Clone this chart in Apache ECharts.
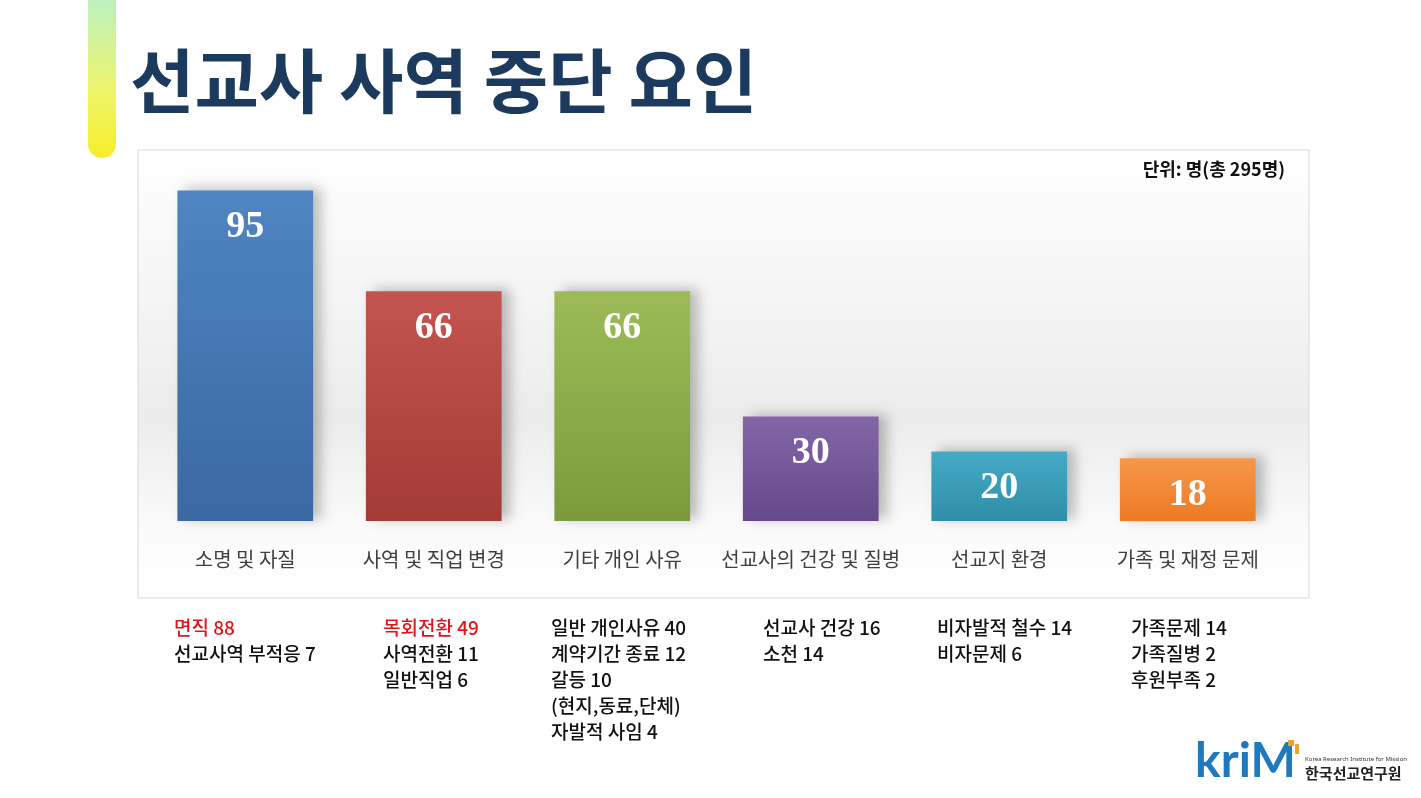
<!DOCTYPE html>
<html>
<head>
<meta charset="utf-8">
<script src="https://cdn.jsdelivr.net/npm/echarts@6/dist/echarts.min.js"></script>
<style>
html,body{margin:0;padding:0;background:#fff;}
#main{width:1421px;height:798px;}
</style>
</head>
<body>
<div id="main"></div>
<script>
// 데이터
var categories = ['소명 및 자질', '사역 및 직업 변경', '기타 개인 사유', '선교사의 건강 및 질병', '선교지 환경', '가족 및 재정 문제'];
var values = [95, 66, 66, 30, 20, 18];
var topColors = ['#4f85c2', '#c4544f', '#9cbb58', '#8466a8', '#45aac6', '#f7974a'];
var bottomColors = ['#3a68a3', '#a33b36', '#7b9a3c', '#65498a', '#2f8ea8', '#ee7a22'];
// 세부 항목 (1 = 빨간색 주요 항목)
var details = [
    [['면직 88', 1], ['선교사역 부적응 7', 0]],
    [['목회전환 49', 1], ['사역전환 11', 0], ['일반직업 6', 0]],
    [['일반 개인사유 40', 0], ['계약기간 종료 12', 0], ['갈등 10', 0], ['(현지,동료,단체)', 0], ['자발적 사임 4', 0]],
    [['선교사 건강 16', 0], ['소천 14', 0]],
    [['비자발적 철수 14', 0], ['비자문제 6', 0]],
    [['가족문제 14', 0], ['가족질병 2', 0], ['후원부족 2', 0]]
];
var detailX = [174, 383, 551, 763, 937, 1131];

var chart = echarts.init(document.getElementById('main'));

var graphics = [
    {type: 'rect', shape: {x: 88, y: -10, width: 28, height: 168, r: [0, 0, 14, 14]},
     style: {fill: new echarts.graphic.LinearGradient(0, 0, 0, 1, [
         {offset: 0, color: '#b8f0c8'}, {offset: 0.6, color: '#eef56a'}, {offset: 1, color: '#f6ee2a'}])}},
    {type: 'text', left: 130, top: 46,
     style: {text: '선교사 사역 중단 요인', font: 'bold 70px "Noto Sans CJK KR"', fill: '#1c3a5e'}},
    {type: 'rect', z: -10, shape: {x: 138, y: 150, width: 1171, height: 448},
     style: {fill: new echarts.graphic.LinearGradient(0, 0, 0, 1, [
         {offset: 0, color: '#ffffff'}, {offset: 0.6, color: '#ececec'}, {offset: 0.85, color: '#fbfbfb'}, {offset: 1, color: '#ffffff'}]),
         stroke: '#d9d9d9', lineWidth: 1}},
    {type: 'text', right: 136, top: 160,
     style: {text: '단위: 명(총 295명)', font: 'bold 18px "Noto Sans CJK KR"', fill: '#111'}},
    {type: 'group', right: 14, top: 738, children: [
        {type: 'text', style: {x: 0, y: 0, text: 'kriM', font: 'bold 48px Lato', fill: '#1f79bd'}},
        {type: 'rect', shape: {x: 93, y: 2, width: 6, height: 6}, style: {fill: '#f0a030'}},
        {type: 'rect', shape: {x: 100, y: 6, width: 4, height: 10}, style: {fill: '#f0a030'}},
        {type: 'text', style: {x: 110, y: 18, text: 'Korea Research Institute for Mission', font: '6px "Noto Sans"', fill: '#333'}},
        {type: 'text', style: {x: 110, y: 28, text: '한국선교연구원', font: 'bold 15px "Noto Sans CJK KR"', fill: '#222'}}
    ]}
];
details.forEach(function (lines, i) {
    lines.forEach(function (ln, j) {
        graphics.push({type: 'text', left: detailX[i], top: 618 + j * 26,
            style: {text: ln[0], font: '500 19px "Noto Sans CJK KR"', fill: ln[1] ? '#e0141c' : '#111'}});
    });
});

var option = {
    backgroundColor: '#fff',
    animation: false,
    graphic: graphics,
    grid: {left: 151, right: 139, top: 173, bottom: 277},
    xAxis: {
        type: 'category', data: categories,
        axisLine: {show: false}, axisTick: {show: false},
        axisLabel: {interval: 0, margin: 28, fontSize: 20, color: '#404040', fontFamily: 'Noto Sans CJK KR'}
    },
    yAxis: {type: 'value', min: 0, max: 100, show: false},
    series: [{
        type: 'bar', barWidth: '72%',
        data: values.map(function (v, i) {
            return {value: v, itemStyle: {
                color: new echarts.graphic.LinearGradient(0, 0, 0, 1, [
                    {offset: 0, color: topColors[i]}, {offset: 1, color: bottomColors[i]}]),
                shadowColor: 'rgba(0,0,0,0.25)', shadowBlur: 12, shadowOffsetX: 8, shadowOffsetY: -2}};
        }),
        label: {show: true, position: 'insideTop', distance: 18, color: '#fff',
            fontSize: 38, fontWeight: 'bold', fontFamily: 'Liberation Serif'}
    }]
};
chart.setOption(option);
</script>
</body>
</html>
